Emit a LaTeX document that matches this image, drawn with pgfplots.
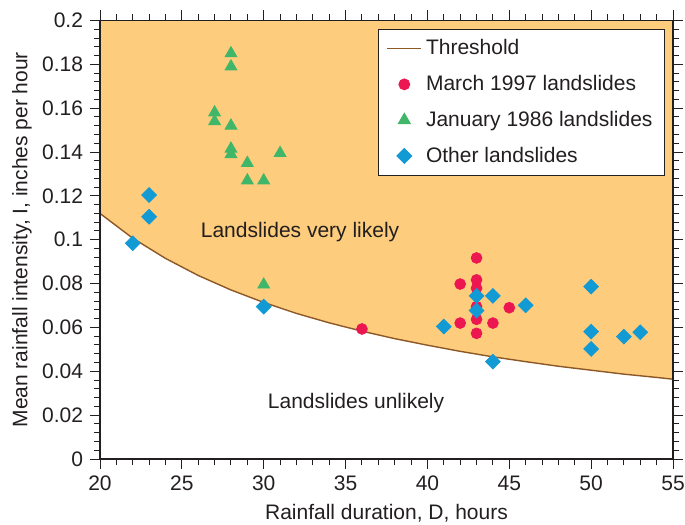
\documentclass[border=0pt]{standalone}
\usepackage{pgfplots}
\pgfplotsset{compat=1.18}
\usepackage{fontspec}
\setmainfont{Liberation Sans}
\definecolor{fillor}{RGB}{253,204,124}
\definecolor{thr}{RGB}{140,88,38}
\definecolor{mred}{RGB}{236,22,80}
\definecolor{jgreen}{RGB}{64,182,104}
\definecolor{oblue}{RGB}{18,154,212}
\definecolor{txt}{RGB}{35,31,32}
\newcommand{\fs}{\fontsize{10.5bp}{12.6bp}\selectfont}
\begin{document}
\begin{tikzpicture}
\begin{axis}[
  at={(0,0)}, anchor=south west,
  scale only axis, width=286.5bp, height=219.25bp,
  xmin=20, xmax=55, ymin=0, ymax=0.2,
  xtick={20,25,30,35,40,45,50,55}, minor x tick num=4,
  ytick={0,0.02,0.04,0.06,0.08,0.1,0.12,0.14,0.16,0.18,0.2}, minor y tick num=4,
  tick align=outside,
  major tick length=5bp, minor tick length=3bp,
  axis on top,
  axis line style={draw=txt, line width=0.6bp},
  every tick/.style={draw=txt, line width=0.5bp},
  scaled y ticks=false,
  yticklabel style={/pgf/number format/fixed, /pgf/number format/precision=2},
  /pgf/number format/assume math mode=true,
  tick label style={font=\fs, text=txt},
  label style={font=\fs, text=txt},
  xlabel={Rainfall duration, D, hours},
  ylabel={Mean rainfall intensity, I, inches per hour},
  xlabel style={at={(axis description cs:0.5,-0.1232)}, anchor=center},
  ylabel style={at={(axis description cs:-0.1361,0.5)}, anchor=center},
  legend cell align=left,
  legend style={at={(axis description cs:1,1)}, anchor=north east, xshift=-4bp, yshift=-4.25bp,
    draw=txt, fill=white, line width=0.5bp, font=\fs, text=txt, row sep=4.8bp,
    inner xsep=4bp, inner ysep=3bp},
]
% shaded region above threshold
\addplot[fill=fillor, draw=none, forget plot] coordinates {
 (20,0.1120) (22,0.1007) (24,0.0915) (26,0.0837) (28,0.0771) (30,0.0714)
 (32,0.0664) (34,0.0621) (36,0.0583) (38,0.0549) (40,0.0519) (42,0.0491)
 (44,0.0466) (46,0.0444) (48,0.0423) (50,0.0405) (52,0.0387) (54,0.0372)
 (55,0.0364) (55,0.2) (20,0.2)};
% threshold
\addplot[thr, line width=0.7bp, mark=none] coordinates {
 (20,0.1120) (22,0.1007) (24,0.0915) (26,0.0837) (28,0.0771) (30,0.0714)
 (32,0.0664) (34,0.0621) (36,0.0583) (38,0.0549) (40,0.0519) (42,0.0491)
 (44,0.0466) (46,0.0444) (48,0.0423) (50,0.0405) (52,0.0387) (54,0.0372)
 (55,0.0364)};
\addlegendentry{Threshold}
% March 1997
\addplot[only marks, mark=*, mark size=2.7bp, mred, mark options={draw=none, fill=mred}] coordinates {
 (36,0.0593) (42,0.0798) (42,0.0620) (43,0.0917) (43,0.0817) (43,0.0779)
 (43,0.0695) (43,0.0637) (43,0.0573) (44,0.0620) (45,0.0690)};
\addlegendentry{March 1997 landslides}
% January 1986
\addplot[only marks, mark=triangle*, mark size=3.4bp, jgreen, mark options={draw=none, fill=jgreen}] coordinates {
 (27,0.158) (27,0.154) (28,0.185) (28,0.179) (28,0.152) (28,0.1415) (28,0.139)
 (29,0.135) (29,0.127) (30,0.127) (31,0.1395) (30,0.0795)};
\addlegendentry{January 1986 landslides}
% Other
\addplot[only marks, mark=square*, mark size=2.6bp, oblue, mark options={draw=none, fill=oblue, rotate=45}] coordinates {
 (22,0.0984) (23,0.1204) (23,0.1105) (30,0.0695) (41,0.0604) (43,0.0744)
 (43,0.0677) (44,0.0744) (44,0.0444) (46,0.0701) (50,0.0786) (50,0.0581)
 (50,0.0502) (52,0.0558) (53,0.0578)};
\addlegendentry{Other landslides}
\node[font=\fs, text=txt] at (axis cs:32.22,0.1036) {Landslides very likely};
\node[font=\fs, text=txt] at (axis cs:35.64,0.0255) {Landslides unlikely};
\end{axis}
\pgfresetboundingbox
\path (-50bp,-33bp) rectangle (292.5bp,229.5bp);
\end{tikzpicture}
\end{document}
